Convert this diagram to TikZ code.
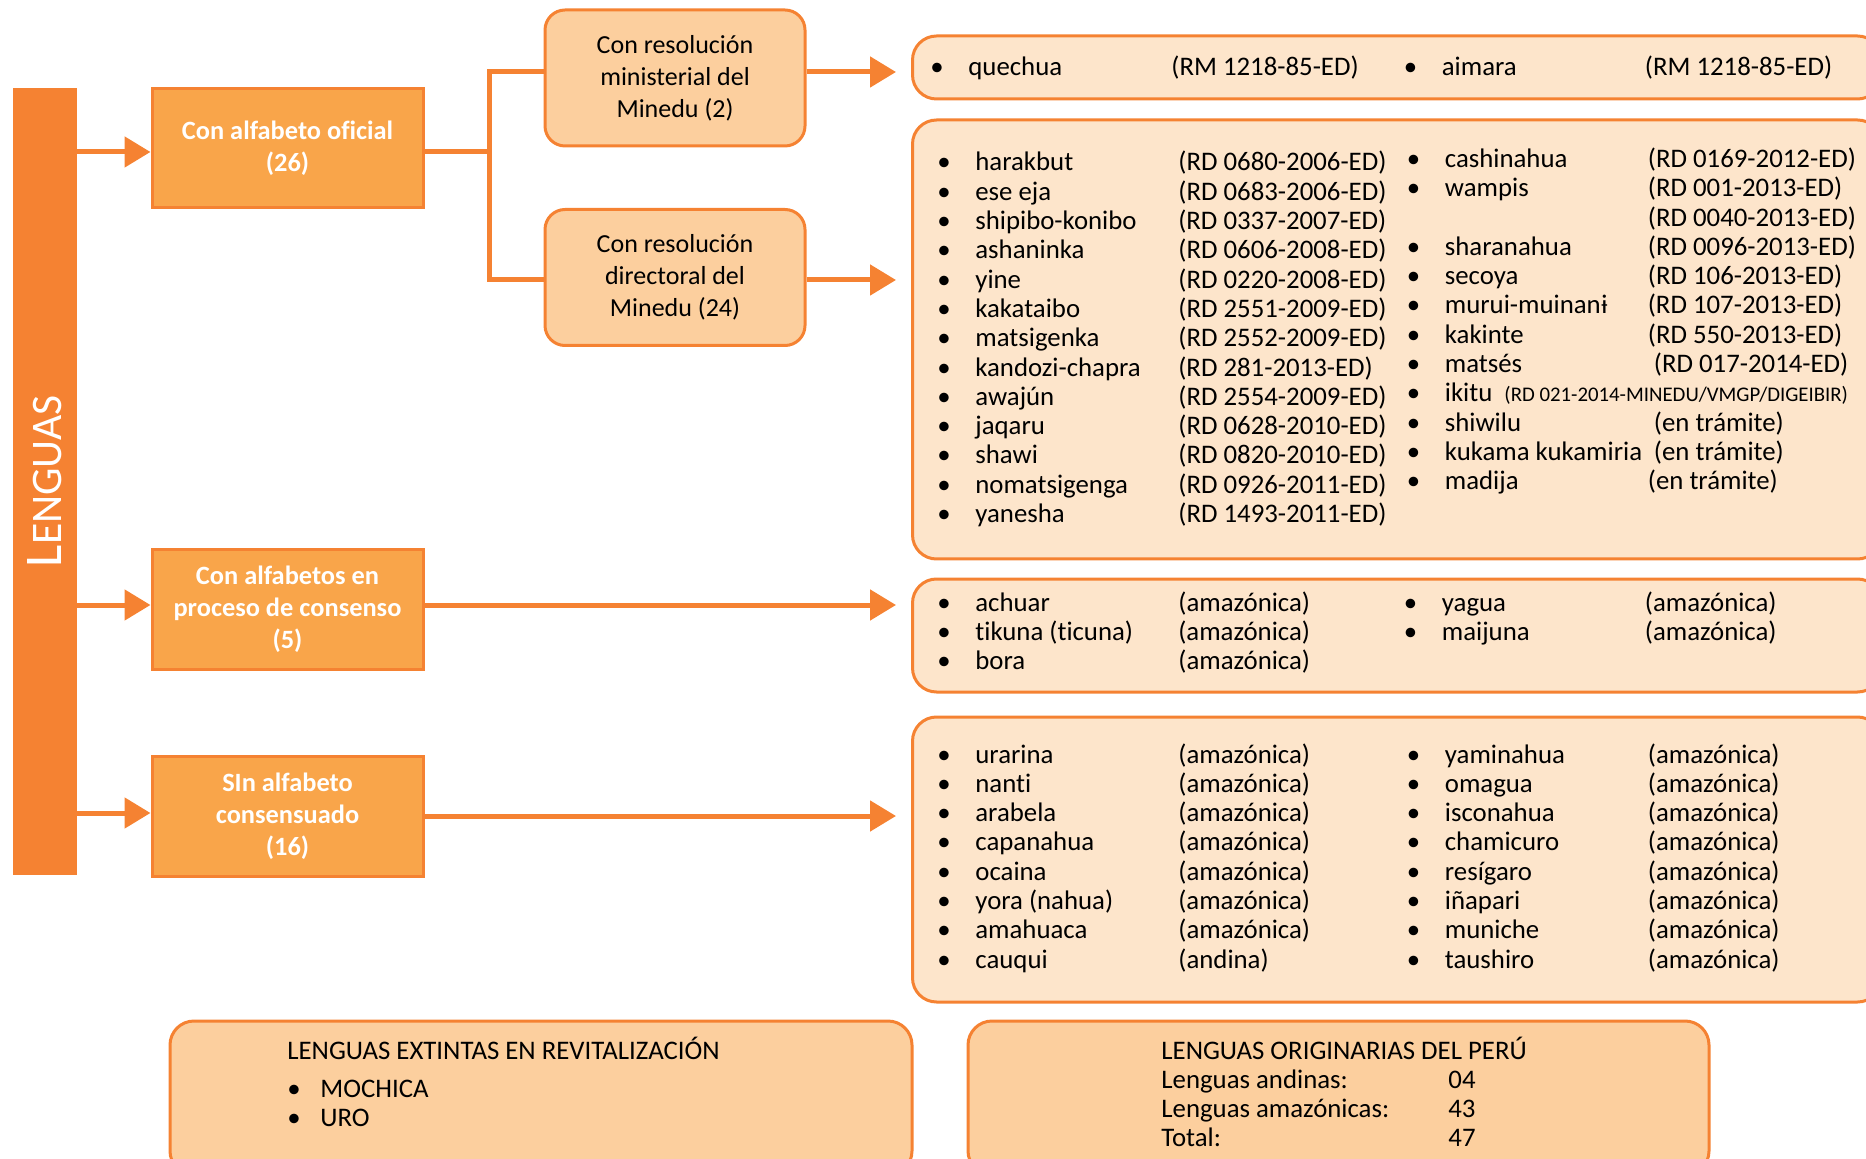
\documentclass[tikz,border=0pt]{standalone}
\usepackage{fontspec}
\setmainfont{Carlito}[Ligatures=NoCommon]
\usetikzlibrary{arrows.meta, positioning}

\definecolor{barorange}{HTML}{F58232}
\definecolor{boxorange}{HTML}{F9A54A}
\definecolor{peach}{HTML}{FCCF9E}
\definecolor{lightpeach}{HTML}{FDE5CB}

\setlength{\tabcolsep}{0pt}
\newcommand{\langtab}[1]{\begin{tabular}[t]{@{}p{19pt}p{101.5pt}l@{}}#1\end{tabular}}
\newcommand{\smallcode}[1]{{\fontsize{10.4}{12}\selectfont #1}}

\begin{document}
\begin{tikzpicture}[x=0.5pt, y=-0.5pt,
    catbox/.style={rectangle, fill=boxorange, draw=barorange, line width=1.5pt,
        minimum width=135.5pt, minimum height=59.5pt, text=white, align=center,
        font=\bfseries\fontsize{13.2}{16}\selectfont},
    resbox/.style={rectangle, rounded corners=10pt, fill=peach, draw=barorange, line width=1.5pt,
        minimum width=130pt, minimum height=68pt, align=center,
        font=\fontsize{13}{16}\selectfont},
    listbox/.style={rectangle, rounded corners=12pt, fill=lightpeach, draw=barorange,
        line width=1.5pt, minimum width=484.5pt, anchor=west},
    notebox/.style={rectangle, rounded corners=12pt, fill=peach, draw=barorange,
        line width=1.5pt, minimum height=77pt},
    listtext/.style={anchor=base west, inner sep=0pt, font=\fontsize{13.4}{14.65}\selectfont},
    link/.style={draw=barorange, line width=2.5pt},
    arr/.style={link, -{Triangle[length=13pt, width=15pt]}}]

    \useasboundingbox (0,0) rectangle (1866,1159);
    \clip (0,0) rectangle (1866,1159);

    % LENGUAS bar
    \node[fill=barorange, minimum width=32pt, minimum height=393.5pt] (bar) at (45,481.5) {};
    \node[rotate=90, text=white] (lenguas) at (bar)
        {\fontsize{26.5}{27}\selectfont L\fontsize{21.8}{22}\selectfont ENGUAS};

    % Categories
    \node[catbox] (oficial) at (287.5,148.5) {Con alfabeto oficial\\(26)};
    \node[catbox] (consenso) at (287.5,609.5) {Con alfabetos en\\proceso de consenso\\(5)};
    \node[catbox, minimum height=60pt] (sinalf) at (287.5,816) {SIn alfabeto\\consensuado\\(16)};

    % Resolutions
    \node[resbox] (ministerial) at (675,78) {Con resolución\\ministerial del\\Minedu (2)};
    \node[resbox] (directoral) at (675,277.5) {Con resolución\\directoral del\\Minedu (24)};

    % List boxes
    \node[listbox, minimum height=31.5pt] (listA) at (911,67.5) {};
    \node[listbox, minimum height=219.5pt] (listB) at (911,339.5) {};
    \node[listbox, minimum height=56.5pt] (listC) at (911,635.5) {};
    \node[listbox, minimum height=142.5pt] (listD) at (911,859.5) {};

    % Bottom notes
    \node[notebox, minimum width=371pt] (extintas) at (541,1098) {};
    \node[notebox, minimum width=370.5pt] (peru) at (1338.5,1098) {};

    % Connector heights
    \coordinate (oficial-in) at (oficial.west |- 0,152);
    \coordinate (oficial-out) at (oficial.east |- 0,152);
    \coordinate (consenso-in) at (consenso.west |- 0,605);
    \coordinate (consenso-out) at (consenso.east |- 0,605);
    \coordinate (sinalf-in) at (sinalf.west |- 0,813);
    \coordinate (sinalf-out) at (sinalf.east |- 0,816);
    \coordinate (ministerial-in) at (ministerial.west |- 0,72);
    \coordinate (ministerial-out) at (ministerial.east |- 0,72);
    \coordinate (directoral-in) at (directoral.west |- 0,280);
    \coordinate (directoral-out) at (directoral.east |- 0,280);

    % Connectors
    \draw[arr] (bar.east |- oficial-in) -- (oficial-in);
    \draw[arr] (bar.east |- consenso-in) -- (consenso-in);
    \draw[arr] (bar.east |- sinalf-in) -- (sinalf-in);
    \draw[link] (oficial-out) -- ++(32.5pt,0) coordinate (fork) |- (ministerial-in);
    \draw[link] (fork) |- (directoral-in);
    \draw[arr, shorten >=7.5pt] (ministerial-out) -- (ministerial-out -| listA.west);
    \draw[arr, shorten >=7.5pt] (directoral-out) -- (directoral-out -| listB.west);
    \draw[arr, shorten >=7.5pt] (consenso-out) -- (consenso-out -| listC.west);
    \draw[arr, shorten >=7.5pt] (sinalf-out) -- (sinalf-out -| listD.west);

    % Ministerial list
    \node[listtext] (listA-left) at (930,76) {\langtab{• & quechua & (RM 1218-85-ED)}};
    \node[listtext] (listA-right) at (1403.5,76) {\langtab{• & aimara & (RM 1218-85-ED)}};

    % Directoral list
    \node[listtext] (listB-left) at (937,171) {\langtab{
        • & harakbut & (RD 0680-2006-ED)\\
        • & ese eja & (RD 0683-2006-ED)\\
        • & shipibo-konibo & (RD 0337-2007-ED)\\
        • & ashaninka & (RD 0606-2008-ED)\\
        • & yine & (RD 0220-2008-ED)\\
        • & kakataibo & (RD 2551-2009-ED)\\
        • & matsigenka & (RD 2552-2009-ED)\\
        • & kandozi-chapra & (RD 281-2013-ED)\\
        • & awajún & (RD 2554-2009-ED)\\
        • & jaqaru & (RD 0628-2010-ED)\\
        • & shawi & (RD 0820-2010-ED)\\
        • & nomatsigenga & (RD 0926-2011-ED)\\
        • & yanesha & (RD 1493-2011-ED)}};
    \node[listtext] (listB-right) at (1406.5,167.5) {\langtab{
        • & cashinahua & (RD 0169-2012-ED)\\
        • & wampis & (RD 001-2013-ED)\\
          & & (RD 0040-2013-ED)\\
        • & sharanahua & (RD 0096-2013-ED)\\
        • & secoya & (RD 106-2013-ED)\\
        • & murui-muinanɨ & (RD 107-2013-ED)\\
        • & kakinte & (RD 550-2013-ED)\\
        • & matsés & \hspace*{3pt}(RD 017-2014-ED)\\
        • & \multicolumn{2}{l}{ikitu\hspace{6pt}\smallcode{(RD 021-2014-MINEDU/VMGP/DIGEIBIR)}}\\
        • & shiwilu & \hspace*{3pt}(en trámite)\\
        • & kukama kukamiria & \hspace*{3pt}(en trámite)\\
        • & madija & (en trámite)}};

    % Consensus list
    \node[listtext] (listC-left) at (937,611) {\langtab{
        • & achuar & (amazónica)\\
        • & tikuna (ticuna) & (amazónica)\\
        • & bora & (amazónica)}};
    \node[listtext] (listC-right) at (1403.5,611) {\langtab{
        • & yagua & (amazónica)\\
        • & maijuna & (amazónica)}};

    % No alphabet list
    \node[listtext] (listD-left) at (937,763) {\langtab{
        • & urarina & (amazónica)\\
        • & nanti & (amazónica)\\
        • & arabela & (amazónica)\\
        • & capanahua & (amazónica)\\
        • & ocaina & (amazónica)\\
        • & yora (nahua) & (amazónica)\\
        • & amahuaca & (amazónica)\\
        • & cauqui & (andina)}};
    \node[listtext] (listD-right) at (1406.5,763) {\langtab{
        • & yaminahua & (amazónica)\\
        • & omagua & (amazónica)\\
        • & isconahua & (amazónica)\\
        • & chamicuro & (amazónica)\\
        • & resígaro & (amazónica)\\
        • & iñapari & (amazónica)\\
        • & muniche & (amazónica)\\
        • & taushiro & (amazónica)}};

    % Notes text
    \node[listtext] (extintas-text) at (287,1059) {\begin{tabular}[t]{@{}p{16.5pt}l@{}}
        \multicolumn{2}{@{}l}{LENGUAS EXTINTAS EN REVITALIZACIÓN}\\[4.35pt]
        • & MOCHICA\\
        • & URO\end{tabular}};
    \node[listtext] (peru-text) at (1161,1059) {\begin{tabular}[t]{@{}p{143.5pt}l@{}}
        \multicolumn{2}{@{}l}{LENGUAS ORIGINARIAS DEL PERÚ}\\
        Lenguas andinas: & 04\\
        Lenguas amazónicas: & 43\\
        Total: & 47\end{tabular}};
\end{tikzpicture}
\end{document}
